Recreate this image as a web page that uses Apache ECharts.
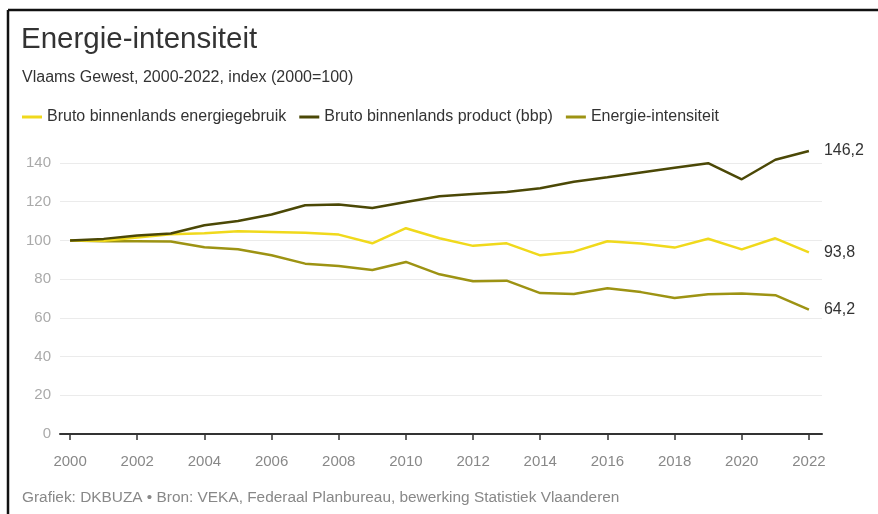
<!DOCTYPE html>
<html>
<head>
<meta charset="utf-8">
<script src="https://cdn.jsdelivr.net/npm/echarts@6/dist/echarts.min.js"></script>
<style>
html,body{margin:0;padding:0;background:#fff;}
#chart{width:878px;height:514px;}
</style>
</head>
<body>
<div id="chart"></div>
<script>
var years = [2000,2001,2002,2003,2004,2005,2006,2007,2008,2009,2010,2011,2012,2013,2014,2015,2016,2017,2018,2019,2020,2021,2022];
var xTicks = [2000,2002,2004,2006,2008,2010,2012,2014,2016,2018,2020,2022];
var energieGebruik = [100,99.8,101.5,103.2,103.7,104.8,104.4,104.0,103.0,98.5,106.3,101.1,97.2,98.5,92.3,94.2,99.6,98.4,96.3,100.9,95.4,101.1,93.8];
var bbp = [100,100.8,102.6,103.6,107.8,110.0,113.4,118.2,118.6,116.7,119.8,122.8,124.0,125.0,127.0,130.3,132.6,135.1,137.6,139.9,131.6,141.7,146.2];
var intensiteit = [100,99.6,99.6,99.5,96.5,95.4,92.3,88.0,86.8,84.7,88.9,82.5,78.9,79.2,72.8,72.3,75.3,73.3,70.3,72.2,72.6,71.7,64.2];
var seriesNames = ['Bruto binnenlands energiegebruik','Bruto binnenlands product (bbp)','Energie-intensiteit'];
var seriesColors = ['#f0d91c','#4b4806','#9d9313'];

function pairs(vals){ return years.map(function(y,i){ return [y, vals[i]]; }); }
var FONT = '"Liberation Sans", Arial, sans-serif';

var chart = echarts.init(document.getElementById('chart'), null, {renderer:'canvas'});
function mkSeries(name, vals, color, z){
  return {
    name: name, type: 'line', data: pairs(vals), showSymbol: false, symbol: 'none',
    clip: false, z: z,
    lineStyle: {color: color, width: 2.5},
    itemStyle: {color: color},
    endLabel: {show: true, distance: 15, color: '#333', fontSize: 16, fontFamily: FONT,
      formatter: function(p){ return String(p.value[1].toFixed(1)).replace('.', ','); }},
    emphasis: {disabled: true}
  };
}
chart.setOption({
  animation: false,
  backgroundColor: '#fff',
  title: [
    {text: 'Energie-intensiteit', left: 16, top: 20, textStyle: {fontFamily: FONT, fontSize: 29.5, fontWeight: 'normal', color: '#333'}},
    {text: 'Vlaams Gewest, 2000-2022, index (2000=100)', left: 17, top: 65, textStyle: {fontFamily: FONT, fontSize: 16, fontWeight: 'normal', color: '#333'}},
    {text: 'Grafiek: DKBUZA \u2022 Bron: VEKA, Federaal Planbureau, bewerking Statistiek Vlaanderen', left: 17, top: 485, textStyle: {fontFamily: FONT, fontSize: 15.4, fontWeight: 'normal', color: '#888'}}
  ],
  legend: {
    left: 17, top: 104, icon: 'rect', itemWidth: 20, itemHeight: 3, itemGap: 13,
    textStyle: {fontFamily: FONT, fontSize: 16, color: '#333'},
    data: seriesNames
  },
  grid: {left: 60, right: 56, top: 163, bottom: 80, containLabel: false},
  xAxis: {
    type: 'value', min: 1999.7, max: 2022.39,
    axisLine: {show: true, lineStyle: {color: '#333', width: 2}},
    axisTick: {show: true, customValues: xTicks, length: 6, lineStyle: {color: '#333', width: 1.5}},
    axisLabel: {customValues: xTicks, color: '#888', fontSize: 15, fontFamily: FONT, margin: 20,
      formatter: function(v){ return String(v); }},
    splitLine: {show: false}
  },
  yAxis: {
    type: 'value', min: 0, max: 140, interval: 20,
    axisLine: {show: false}, axisTick: {show: false},
    axisLabel: {color: '#aaa', fontSize: 15, fontFamily: FONT, margin: 9},
    splitLine: {show: true, lineStyle: {color: '#ebebeb', width: 1}}
  },
  graphic: [
    {type: 'line', shape: {x1: 8, y1: 10, x2: 878, y2: 10}, style: {stroke: '#111', lineWidth: 2.5}, z: 100},
    {type: 'line', shape: {x1: 8, y1: 10, x2: 8, y2: 514}, style: {stroke: '#111', lineWidth: 2.5}, z: 100}
  ],
  series: [
    mkSeries(seriesNames[0], energieGebruik, seriesColors[0], 3),
    mkSeries(seriesNames[1], bbp, seriesColors[1], 4),
    mkSeries(seriesNames[2], intensiteit, seriesColors[2], 2)
  ]
});
</script>
</body>
</html>
